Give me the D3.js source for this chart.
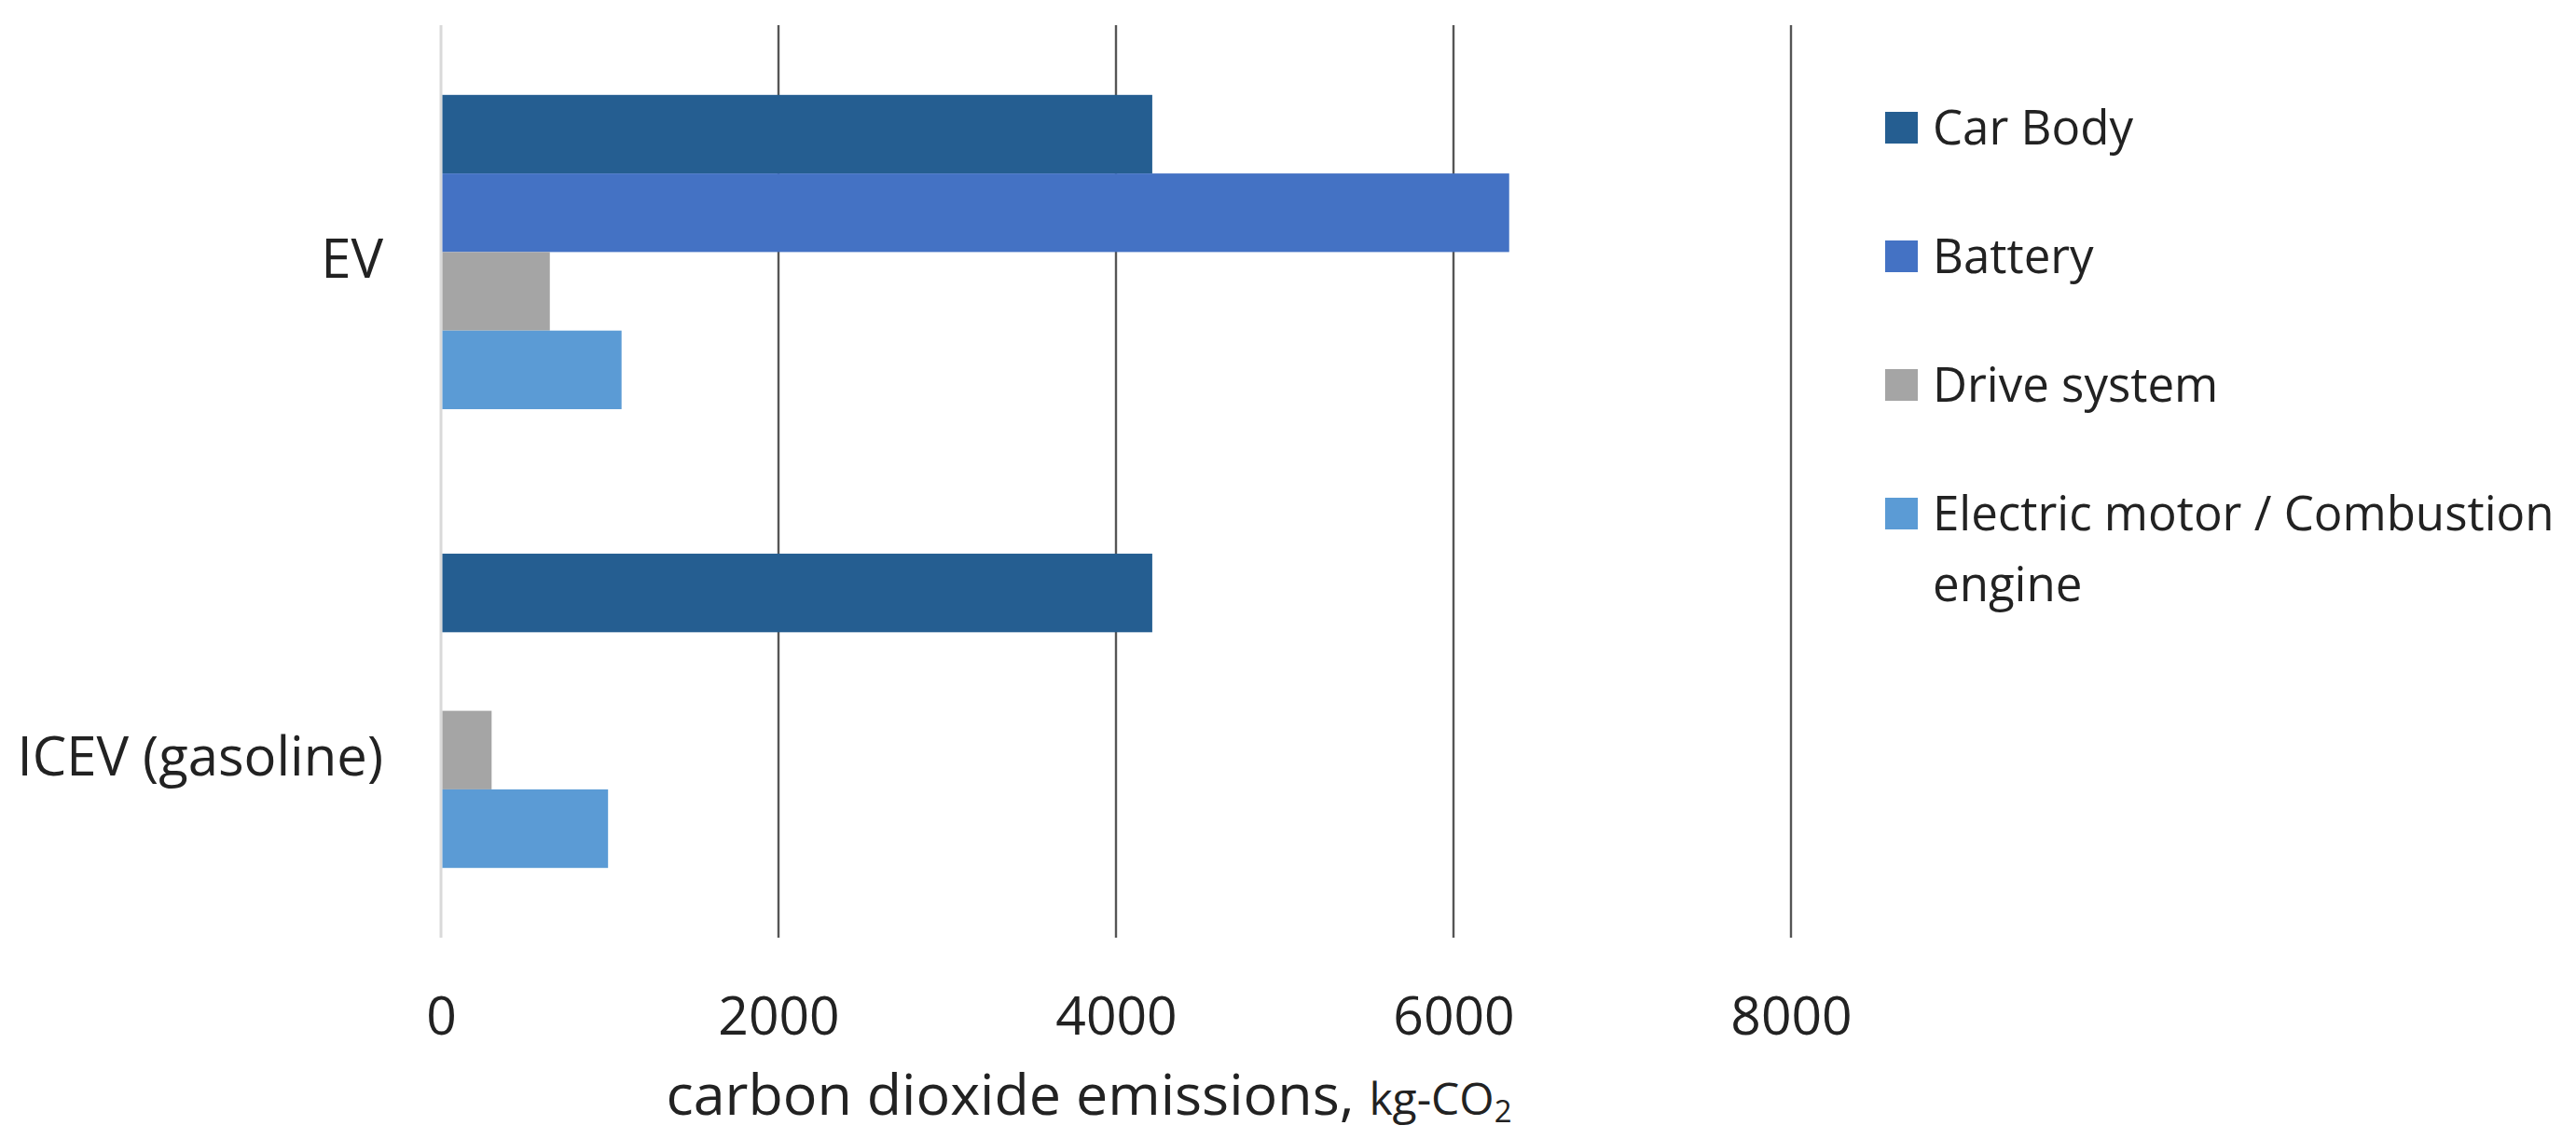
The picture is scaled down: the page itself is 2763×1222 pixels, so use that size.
<!DOCTYPE html>
<html>
<head>
<meta charset="utf-8">
<script src="https://cdn.jsdelivr.net/npm/d3@7"></script>
<style>
  html, body { margin: 0; padding: 0; background: #fff; }
  svg { display: block; }
  text { font-family: "Open Sans", "DejaVu Sans", sans-serif; fill: #222; }
</style>
</head>
<body>
<svg id="chart" width="2763" height="1222"></svg>
<script>
// ---- data ----
const categories = ["EV", "ICEV (gasoline)"];
const seriesNames = ["Car Body", "Battery", "Drive system", "Electric motor / Combustion engine"];
const carBody = [4215, 4215];
const battery = [6330, 0];
const driveSystem = [645, 300];
const motorEngine = [1070, 990];
const xTicks = [0, 2000, 4000, 6000, 8000];
const xTitleMain = "carbon dioxide emissions, ";
const xTitleUnit = "kg-CO";
const xTitleSub = "2";
const colors = ["#255e91", "#4472c4", "#a5a5a5", "#5b9bd5"];

const seriesValues = [carBody, battery, driveSystem, motorEngine];
const rows = categories.map((c, i) => ({
  category: c,
  values: seriesNames.map((s, j) => ({ series: s, idx: j, value: seriesValues[j][i] }))
}));

// ---- layout ----
const svg = d3.select("#chart");
const plot = { left: 473, right: 1921, top: 27, bottom: 1006 };

const x = d3.scaleLinear().domain([0, 8000]).range([plot.left, plot.right]);
const y0 = d3.scaleBand().domain(categories).range([plot.top, plot.bottom])
  .paddingInner(0.315).paddingOuter(0.152);
const y1 = d3.scaleBand().domain(seriesNames).range([0, y0.bandwidth()]).padding(0);

// gridlines
const grid = svg.append("g");
grid.selectAll("line").data(xTicks).join("line")
  .attr("x1", d => x(d)).attr("x2", d => x(d))
  .attr("y1", plot.top).attr("y2", plot.bottom)
  .attr("stroke", d => d === 0 ? "#d9d9d9" : "#555555")
  .attr("stroke-width", d => d === 0 ? 3 : 2.4);

// bars
const groups = svg.append("g").selectAll("g").data(rows).join("g")
  .attr("transform", d => `translate(0,${y0(d.category)})`);
groups.selectAll("rect").data(d => d.values.filter(v => v.value > 0)).join("rect")
  .attr("x", x(0) + 1.5)
  .attr("y", d => y1(d.series))
  .attr("width", d => x(d.value) - x(0) - 1.5)
  .attr("height", y1.bandwidth())
  .attr("fill", d => colors[d.idx]);

// x axis (labels only)
const xAxis = d3.axisBottom(x).tickValues(xTicks).tickSize(0).tickPadding(0).tickFormat(d3.format("d"));
const gx = svg.append("g").attr("transform", `translate(0,${plot.bottom})`).call(xAxis);
gx.select(".domain").remove();
gx.selectAll("text")
  .attr("y", 104).attr("dy", null)
  .style("font-family", '"Open Sans", sans-serif')
  .style("font-size", "57px")
  .attr("fill", "#222");

// x title
const title = svg.append("text")
  .attr("x", 1168)
  .attr("y", 1196)
  .attr("text-anchor", "middle")
  .style("font-size", "61px");
title.append("tspan").text(xTitleMain);
title.append("tspan").style("font-size", "48px").text(xTitleUnit);
title.append("tspan").style("font-size", "33px").attr("dy", 8).text(xTitleSub);

// y axis (category labels); Excel places them slightly below band centre
const labelShift = { "EV": 9, "ICEV (gasoline)": 51 };
const yAxis = d3.axisLeft(y0).tickSize(0).tickPadding(62);
const gy = svg.append("g").attr("transform", `translate(${plot.left},0)`).call(yAxis);
gy.select(".domain").remove();
gy.selectAll("text")
  .attr("y", d => labelShift[d])
  .style("font-family", '"Open Sans", sans-serif')
  .style("font-size", "58px")
  .attr("fill", "#222");

// legend
const legend = svg.append("g").attr("transform", "translate(2022,0)");
const legY = d3.scalePoint().domain(seriesNames).range([137, 551]);
const items = legend.selectAll("g").data(seriesNames).join("g")
  .attr("transform", d => `translate(0,${legY(d)})`);
items.append("rect")
  .attr("x", 0).attr("y", -17).attr("width", 35).attr("height", 34)
  .attr("fill", (d, i) => colors[i]);
items.append("text")
  .attr("x", 51).attr("y", 18)
  .style("font-size", "51px")
  .each(function(d) {
    const t = d3.select(this);
    const parts = d === "Electric motor / Combustion engine"
      ? ["Electric motor / Combustion", "engine"] : [d];
    parts.forEach((p, k) => {
      t.append("tspan").attr("x", 51).attr("dy", k === 0 ? 0 : 76).text(p);
    });
  });
</script>
</body>
</html>
